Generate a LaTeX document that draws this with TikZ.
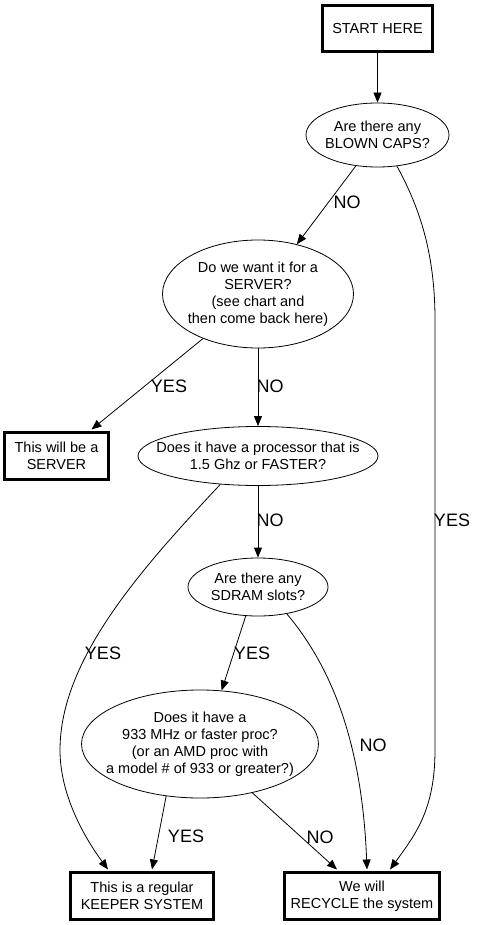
\documentclass[tikz,border=0pt]{standalone}
\usepackage{fontspec}
\setmainfont{Liberation Sans}
\usetikzlibrary{shapes.geometric,arrows.meta}
\begin{document}
\begin{tikzpicture}[x=1pt,y=-1pt,
  stepbox/.style={draw, line width=3pt, rectangle, inner sep=0pt, align=center,
    font=\fontsize{14.5}{17}\selectfont},
  ques/.style={draw, ellipse, line width=0.8pt, inner xsep=-80pt, inner ysep=-40pt,
    align=center, font=\fontsize{14.5}{17}\selectfont},
  lbl/.style={inner sep=0pt, font=\fontsize{18}{20}\selectfont},
  edge/.style={line width=0.8pt, -{Triangle[length=10pt,width=8pt]}}
]
\useasboundingbox (0,0) rectangle (480,925);

\node[stepbox, minimum width=110pt, minimum height=46pt] (start) at (377.5,28.5) {START HERE};
\node[ques, minimum width=143pt, minimum height=64pt] (blown) at (377.5,135) {Are there any\\BLOWN CAPS?};
\node[ques, minimum width=191pt, minimum height=108pt] (server) at (258,294) {Do we want it for a\\SERVER?\\(see chart and\\then come back here)};
\node[stepbox, minimum width=104pt, minimum height=47pt] (sbox) at (56.5,456) {This will be a\\SERVER};
\node[ques, minimum width=240pt, minimum height=59pt] (ghz) at (258,456) {Does it have a processor that is\\1.5 Ghz or FASTER?};
\node[ques, minimum width=140pt, minimum height=58pt] (sdram) at (258,587) {Are there any\\SDRAM slots?};
\node[ques, minimum width=237pt, minimum height=108pt] (q933) at (200,744) {Does it have a\\933 MHz or faster proc?\\(or an AMD proc with\\a model \# of 933 or greater?)};
\node[stepbox, minimum width=143pt, minimum height=47pt] (keeper) at (142,896) {This is a regular\\KEEPER SYSTEM};
\node[stepbox, minimum width=155pt, minimum height=47pt] (recycle) at (362,896) {We will\\RECYCLE the system};

% edges
\draw[edge] (start.south) -- (blown.north);
\draw[edge] (blown.-125) -- (server.52);
\draw[edge] (blown.-58) .. controls (418,205) and (435,250) .. (435,320)
  -- (435,750) .. controls (435,810) and (415,835) .. ([xshift=28pt,yshift=1.5pt]recycle.north);
\draw[edge] (server.-141) -- ([xshift=35pt,yshift=1.5pt]sbox.north);
\draw[edge] (server.south) -- (ghz.north);
\draw[edge] (ghz.-143) .. controls (140,570) and (60,660) .. (60,750)
  .. controls (60,800) and (90,845) .. ([xshift=-34pt,yshift=1.5pt]keeper.north);
\draw[edge] (ghz.south) -- (sdram.north);
\draw[edge] (sdram.-113) -- (q933.68);
\draw[edge] (sdram.-43) .. controls (330,665) and (362,740) .. ([xshift=5pt,yshift=1.5pt]recycle.north);
\draw[edge] (q933.-123) -- ([xshift=10pt,yshift=1.5pt]keeper.north);
\draw[edge] (q933.-43) -- ([xshift=-25pt,yshift=1.5pt]recycle.north);

% labels
\node[lbl] (l1) at (347,202) {NO};
\node[lbl] (l2) at (452,520) {YES};
\node[lbl] (l3) at (169,386) {YES};
\node[lbl] (l4) at (270,386) {NO};
\node[lbl] (l5) at (270,520) {NO};
\node[lbl] (l6) at (103,653) {YES};
\node[lbl] (l7) at (252,653) {YES};
\node[lbl] (l8) at (373,745) {NO};
\node[lbl] (l9) at (186,836) {YES};
\node[lbl] (l10) at (320,837) {NO};
\end{tikzpicture}
\end{document}
